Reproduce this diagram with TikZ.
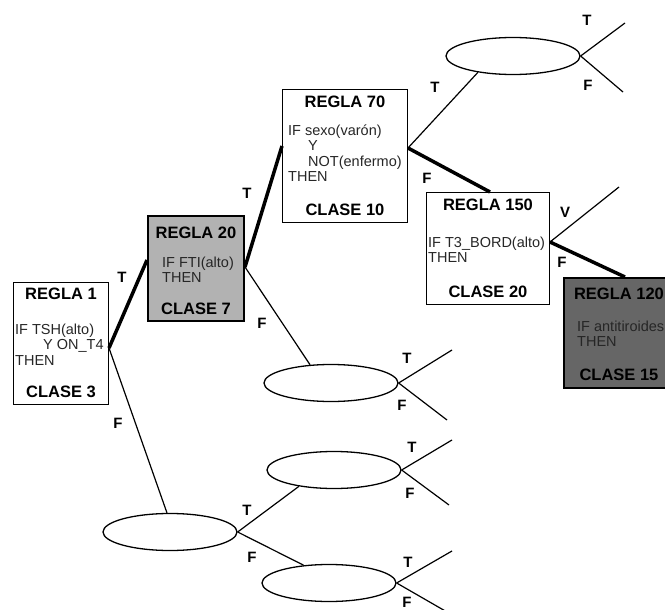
\documentclass[tikz,border=0pt]{standalone}
\usepackage{fontspec}
\setmainfont{Liberation Sans}
\usetikzlibrary{shapes.geometric}

\tikzset{
  regla/.style={draw=black, line width=1pt, inner sep=0pt, anchor=north west},
  titulo/.style={font=\fontsize{16.5}{18}\selectfont\bfseries, anchor=base, inner sep=0pt},
  cuerpo/.style={font=\fontsize{14.5}{15.5}\selectfont, anchor=north west, align=left, inner sep=0pt, text=black!85},
  etiq/.style={font=\fontsize{15}{17}\selectfont\bfseries, inner sep=0pt},
  hoja/.style={draw, ellipse, line width=1.3pt, minimum width=134pt, minimum height=37pt, inner sep=0pt},
  rama/.style={line width=1.2pt},
  ruta/.style={line width=3.5pt}
}

\begin{document}
\begin{tikzpicture}[x=1pt, y=-1pt]
  \useasboundingbox (0,0) rectangle (665,610);
  \clip (0,0) rectangle (665,610);

  % Regla 1
  \node[regla, minimum width=95pt, minimum height=122pt] (r1) at (13,282) {};
  \node[titulo] (r1t) at ([yshift=-17pt]r1.north) {REGLA 1};
  \node[cuerpo] (r1c) at ([xshift=2pt,yshift=-41.5pt]r1.north west)
    {IF TSH(alto)\\\hspace*{28pt}Y ON\_T4\\THEN};
  \node[titulo] (r1k) at ([yshift=8pt]r1.south) {CLASE 3};

  % Regla 20
  \node[regla, line width=2pt, fill=black!30, minimum width=96pt, minimum height=105pt] (r20) at (147,215) {};
  \node[titulo] (r20t) at ([yshift=-23pt]r20.north) {REGLA 20};
  \node[cuerpo] (r20c) at ([xshift=15pt,yshift=-41.5pt]r20.north west) {IF FTI(alto)\\THEN};
  \node[titulo] (r20k) at ([yshift=8pt]r20.south) {CLASE 7};

  % Regla 70
  \node[regla, minimum width=125pt, minimum height=133pt] (r70) at (282,89) {};
  \node[titulo] (r70t) at ([yshift=-19pt]r70.north) {REGLA 70};
  \node[cuerpo] (r70c) at ([xshift=6pt,yshift=-35.5pt]r70.north west)
    {IF sexo(varón)\\\hspace*{20pt}Y\\\hspace*{20pt}NOT(enfermo)\\THEN};
  \node[titulo] (r70k) at ([yshift=8pt]r70.south) {CLASE 10};

  % Regla 150
  \node[regla, minimum width=123pt, minimum height=112pt] (r150) at (426,192) {};
  \node[titulo] (r150t) at ([yshift=-19pt]r150.north) {REGLA 150};
  \node[cuerpo] (r150c) at ([xshift=2pt,yshift=-44.5pt]r150.north west) {IF T3\_BORD(alto)\\THEN};
  \node[titulo] (r150k) at ([yshift=8pt]r150.south) {CLASE 20};

  % Regla 120
  \node[regla, line width=2pt, fill=black!60, minimum width=110pt, minimum height=110pt] (r120) at (563,277) {};
  \node[titulo] (r120t) at ([yshift=-22pt]r120.north) {REGLA 120};
  \node[cuerpo] (r120c) at ([xshift=14pt,yshift=-43.5pt]r120.north west) {IF antitiroides\\THEN};
  \node[titulo] (r120k) at ([yshift=9pt]r120.south) {CLASE 15};

  % hojas sin regla
  \node[hoja] (h1) at (513,56) {};
  \node[hoja] (h2) at (331,383) {};
  \node[hoja] (h3) at (170,532) {};
  \node[hoja] (h4) at (334,470) {};
  \node[hoja] (h5) at (329,583) {};

  % puntos de salida y entrada
  \coordinate (r1o) at ([yshift=-66pt]r1.north east);
  \coordinate (r20i) at ([yshift=-45pt]r20.north west);
  \coordinate (r20o) at ([yshift=-52pt]r20.north east);
  \coordinate (r70i) at ([yshift=-57pt]r70.north west);
  \coordinate (r70o) at ([yshift=-59pt]r70.north east);
  \coordinate (r150i) at ([xshift=2pt]r150.north);
  \coordinate (r150o) at ([yshift=-50pt]r150.north east);
  \coordinate (r120i) at ([xshift=6pt]r120.north);

  % extremos libres
  \coordinate (h1t) at (625,23);
  \coordinate (h1f) at (623,92);
  \coordinate (h2t) at (452,350);
  \coordinate (h2f) at (447,420);
  \coordinate (h4t) at (452,440);
  \coordinate (h4f) at (449,505);
  \coordinate (h5t) at (452,551);
  \coordinate (h5f) at (447,612);
  \coordinate (r150v) at (619,187);

  % camino en negrita
  \draw[ruta] (r1o) -- (r20i);
  \draw[ruta] (r20o) -- (r70i);
  \draw[ruta] (r70o) -- (r150i);
  \draw[ruta] (r150o) -- (r120i);

  % ramas
  \draw[rama] (r1o) -- (h3.99);
  \draw[rama] (r20o) -- (h2.139);
  \draw[rama] (r70o) -- (h1.205);
  \draw[rama] (r150o) -- (r150v);
  \draw[rama] (h3.east) -- (h4.205);
  \draw[rama] (h3.east) -- (h5.145);
  \draw[rama] (h1.east) -- (h1t);
  \draw[rama] (h1.east) -- (h1f);
  \draw[rama] (h2.east) -- (h2t);
  \draw[rama] (h2.east) -- (h2f);
  \draw[rama] (h4.east) -- (h4t);
  \draw[rama] (h4.east) -- (h4f);
  \draw[rama] (h5.east) -- (h5t);
  \draw[rama] (h5.east) -- (h5f);

  % etiquetas
  \node[etiq] (l1) at (122,277) {T};
  \node[etiq] (l2) at (118,423) {F};
  \node[etiq] (l3) at (247,193) {T};
  \node[etiq] (l4) at (262,323) {F};
  \node[etiq] (l5) at (435,87) {T};
  \node[etiq] (l6) at (427,178) {F};
  \node[etiq] (l7) at (587,20) {T};
  \node[etiq] (l8) at (588,85) {F};
  \node[etiq] (l9) at (565,212) {V};
  \node[etiq] (l10) at (562,262) {F};
  \node[etiq] (l11) at (407,358) {T};
  \node[etiq] (l12) at (402,405) {F};
  \node[etiq] (l13) at (247,510) {T};
  \node[etiq] (l14) at (252,557) {F};
  \node[etiq] (l15) at (412,447) {T};
  \node[etiq] (l16) at (410,493) {F};
  \node[etiq] (l17) at (408,562) {T};
  \node[etiq] (l18) at (407,602) {F};
\end{tikzpicture}
\end{document}
